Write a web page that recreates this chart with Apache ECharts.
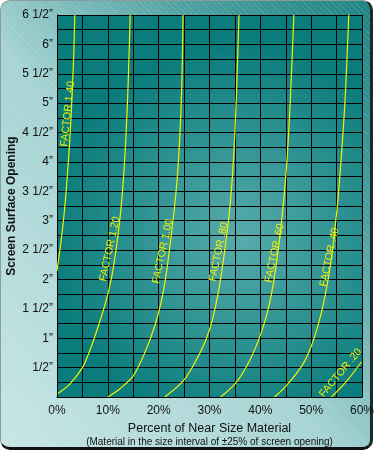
<!DOCTYPE html>
<html>
<head>
<meta charset="utf-8">
<script src="https://cdn.jsdelivr.net/npm/echarts@6/dist/echarts.min.js"></script>
<style>
  html, body { margin: 0; padding: 0; background: #fff; }
  #panel {
    position: absolute; left: 0; top: 0;
    width: 369px; height: 446px;
    border: 1px solid #8a9c9c;
    border-right: 3px solid #1c2a2a;
    border-bottom: 3px solid #111;
    border-radius: 10px;
    background:
      repeating-linear-gradient(45deg, rgba(255,255,255,0.10) 0 1px, rgba(0,0,0,0) 1px 4px),
      linear-gradient(to bottom left, #1f8383 0%, #4d9f9f 25%, #a6d3d3 55%, #c6e5e5 100%);
  }
  #chart { position: absolute; left: 0; top: 0; width: 376px; height: 452px; }
</style>
</head>
<body>
<div id="panel"></div>
<div id="chart"></div>
<script>
// tick labels
const xLabels = ["0%", "10%", "20%", "30%", "40%", "50%", "60%"];
const yLabels = ["", "1/2\u201d", "1\u201d", "1 1/2\u201d", "2\u201d", "2 1/2\u201d", "3\u201d",
  "3 1/2\u201d", "4\u201d", "4 1/2\u201d", "5\u201d", "5 1/2\u201d", "6\u201d", "6 1/2\u201d"];

// curves: [percent near size, screen opening in inches]
const factor140 = [[0, 2.15], [0.8, 2.65], [1.5, 3.2], [2.1, 3.85], [2.6, 4.5], [3.0, 5.2], [3.3, 5.85], [3.5, 6.5]];
const factor120 = [[0.2, 0.06], [2.5, 0.22], [5, 0.5], [6.5, 0.8], [8.1, 1.2], [9.6, 1.62], [10.7, 2.02],
  [11.7, 2.56], [12.5, 3.13], [13.1, 3.75], [13.6, 4.5], [14.0, 5.34], [14.4, 6.5]];
const factor100 = [[10, 0], [12.5, 0.15], [15, 0.36], [17.3, 0.76], [19.2, 1.2], [20.5, 1.62], [21.5, 2.1],
  [22.4, 2.7], [23.2, 3.3], [23.8, 3.9], [24.3, 4.7], [24.6, 5.5], [24.8, 6.5]];
const factor80 = [[21.2, 0], [25, 0.29], [28.2, 0.76], [30, 1.14], [31.2, 1.55], [32.2, 2.02], [33.1, 2.56],
  [33.9, 3.13], [34.5, 3.75], [35.0, 4.5], [35.4, 5.4], [35.8, 6.5]];
const factor60 = [[32.2, 0], [35.1, 0.23], [37.6, 0.57], [39.7, 0.98], [41.2, 1.38], [42.3, 1.8], [43.2, 2.3],
  [44.0, 2.85], [44.7, 3.45], [45.3, 4.1], [45.9, 5.05], [46.6, 6.5]];
const factor40 = [[42.8, 0], [45, 0.18], [48.1, 0.52], [50, 0.86], [51.6, 1.3], [52.8, 1.75], [53.8, 2.25],
  [54.6, 2.8], [55.3, 3.4], [55.9, 4.05], [56.7, 5.1], [57.4, 6.5]];
const factor20 = [[54, 0], [56.9, 0.26], [59.9, 0.6]];

const curveNames = ["FACTOR 1.40", "FACTOR 1.20", "FACTOR 1.00", "FACTOR .80", "FACTOR .60", "FACTOR .40", "FACTOR .20"];
const curveData = [factor140, factor120, factor100, factor80, factor60, factor40, factor20];
// where each label sits (data coords) and its angle
const labelAt = [[2.1, 4.82], [10.4, 2.52], [20.8, 2.48], [31.8, 2.47], [42.8, 2.45], [53.6, 2.38], [55.8, 0.41]];
const labelRot = [84, 78, 78, 78, 78, 78, 50];

const FONT = "'Liberation Sans', Arial, sans-serif";
const chart = echarts.init(document.getElementById("chart"));

chart.setOption({
  animation: false,
  grid: {
    left: 57, top: 15, right: 14, bottom: 55,
    outerBoundsMode: "none", containLabel: false,
    show: true, borderWidth: 0,
    backgroundColor: {
      type: "radial", x: 0.6, y: 0.58, r: 0.62,
      colorStops: [
        { offset: 0, color: "#58acac" },
        { offset: 1, color: "#0b7c7c" }
      ]
    }
  },
  xAxis: {
    type: "value", min: 0, max: 60, interval: 5,
    name: "{a|Percent of Near Size Material}\n{b|(Material in the size interval of \u00b125% of screen opening)}",
    nameLocation: "middle", nameGap: 21,
    nameTextStyle: {
      rich: {
        a: { fontFamily: FONT, fontSize: 12.5, color: "#111", lineHeight: 14 },
        b: { fontFamily: FONT, fontSize: 10, color: "#111", lineHeight: 13 }
      }
    },
    axisLine: { show: true, lineStyle: { color: "#000", width: 1 } },
    axisTick: { show: false },
    splitLine: { show: true, lineStyle: { color: "#000", width: 1 } },
    axisLabel: {
      margin: 8, fontFamily: FONT, fontSize: 12, color: "#111",
      formatter: v => (v % 10 === 0 ? xLabels[v / 10] : "")
    }
  },
  yAxis: {
    type: "value", min: 0, max: 6.5, interval: 0.25,
    name: "Screen Surface Opening",
    nameLocation: "middle", nameGap: 39, nameMoveOverlap: false,
    nameTextStyle: { fontFamily: FONT, fontSize: 12, fontWeight: "bold", color: "#111" },
    axisLine: { show: true, lineStyle: { color: "#000", width: 1 } },
    axisTick: { show: false },
    splitLine: { show: true, lineStyle: { color: "#000", width: 1 } },
    axisLabel: {
      margin: 4, fontFamily: FONT, fontSize: 12, color: "#111",
      formatter: v => (Math.round(v * 4) % 2 === 0 ? yLabels[Math.round(v * 2)] : "")
    }
  },
  series: curveData.map((d, i) => ({
    name: curveNames[i],
    type: "line",
    data: d,
    smooth: 0.3,
    symbol: "none",
    lineStyle: { color: "#f2f200", width: 1.2 },
    markPoint: {
      symbol: "circle", symbolSize: 0,
      label: {
        show: true, position: "inside",
        formatter: curveNames[i],
        rotate: labelRot[i],
        fontFamily: FONT, fontSize: 10.5, color: "#f2f200"
      },
      data: [{ coord: labelAt[i] }]
    }
  }))
});
</script>
</body>
</html>
